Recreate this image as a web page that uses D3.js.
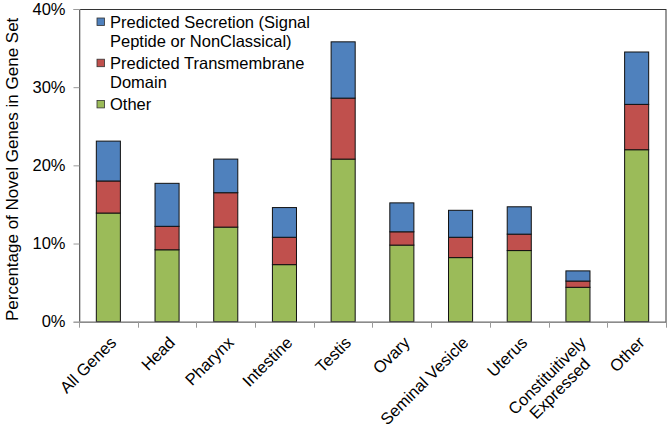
<!DOCTYPE html>
<html><head><meta charset="utf-8">
<script src="https://cdn.jsdelivr.net/npm/d3@7"></script>
<style>
html,body{margin:0;padding:0;background:#fff;}
text{font-family:"Liberation Sans",Arial,sans-serif;fill:#000;}
</style></head>
<body>
<svg id="c" width="670" height="427"></svg>
<script>
const categories = ["All Genes","Head","Pharynx","Intestine","Testis","Ovary","Seminal Vesicle","Uterus","Constituitively|Expressed","Other"];
const otherVals = [13.9, 9.2, 12.1, 7.3, 20.8, 9.8, 8.2, 9.1, 4.4, 22.0];
const transmembraneVals = [4.1, 3.0, 4.4, 3.5, 7.8, 1.7, 2.6, 2.1, 0.8, 5.8];
const secretionVals = [5.1, 5.5, 4.3, 3.8, 7.2, 3.7, 3.45, 3.5, 1.3, 6.7];
const seriesNames = ["Other","Predicted Transmembrane Domain","Predicted Secretion (Signal Peptide or NonClassical)"];
const legendLines = [["Predicted Secretion (Signal","Peptide or NonClassical)"],["Predicted Transmembrane","Domain"],["Other"]];
const yTicks = [0,10,20,30,40];
const colors = {"Other":"#9BBB59","Predicted Transmembrane Domain":"#C0504D","Predicted Secretion (Signal Peptide or NonClassical)":"#4F81BD"};

const svg = d3.select("#c");
const L=79, R=666, T=9, B=321.7;
const x = d3.scaleBand().domain(categories).range([L,R]).paddingInner(0.59).paddingOuter(0.295);
const y = d3.scaleLinear().domain([0,40]).range([B,T]);

const rows = categories.map((c,i)=>({cat:c, "Other":otherVals[i], "Predicted Transmembrane Domain":transmembraneVals[i], "Predicted Secretion (Signal Peptide or NonClassical)":secretionVals[i]}));
const stack = d3.stack().keys(seriesNames)(rows);

// plot border
svg.append("rect").attr("x",L+0.5).attr("y",T+0.5).attr("width",R-L-0.5).attr("height",B-T).attr("fill","none").attr("stroke","#333").attr("stroke-width",1);

// bars
svg.append("g").selectAll("g").data(stack).join("g").attr("fill",d=>colors[d.key])
 .selectAll("rect").data(d=>d).join("rect")
 .attr("x",d=>x(d.data.cat)).attr("width",x.bandwidth())
 .attr("y",d=>y(d[1])).attr("height",d=>y(d[0])-y(d[1]))
 .attr("stroke","#111").attr("stroke-width",1);

// y axis
const yAxis = d3.axisLeft(y).tickValues(yTicks).tickFormat(d=>d+"%").tickSize(6).tickPadding(8);
const gy = svg.append("g").attr("transform",`translate(${L+0.5},0)`).call(yAxis);
gy.select(".domain").attr("stroke","#999");
gy.selectAll(".tick line").attr("stroke","#999");
gy.selectAll(".tick text").style("font-size","16.5px").style("font-family","'Liberation Sans',Arial,sans-serif").attr("fill","#000");

// x axis with ticks at band boundaries
const gx = svg.append("g").attr("transform",`translate(0,${B})`);
gx.append("line").attr("x1",L).attr("x2",R).attr("y1",0.5).attr("y2",0.5).attr("stroke","#999");
const bounds = categories.map(c=>x(c)-x.step()*x.paddingInner()/2).concat([R]);
gx.selectAll("line.t").data(bounds).join("line").attr("class","t")
 .attr("x1",d=>Math.round(d)+0.5).attr("x2",d=>Math.round(d)+0.5).attr("y1",0).attr("y2",6).attr("stroke","#999");
gx.selectAll("text").data(categories).join("text")
 .attr("transform",d=>`translate(${x(d)+x.bandwidth()/2+9},${22}) rotate(-45)`)
 .attr("text-anchor","middle").style("font-size","16.5px")
 .each(function(d){
   const parts=d.split("|");
   const sel=d3.select(this);
   const ts=sel.selectAll("tspan").data(parts).join("tspan").attr("dy",(p,i)=>i===0?0:"1.1em").text(p=>p);
   let maxW=0; ts.each(function(){maxW=Math.max(maxW,this.getComputedTextLength());});
   ts.attr("x",-maxW/2);
 });

// y title
svg.append("text").attr("transform",`translate(17.5,${(T+B)/2+4}) rotate(-90)`).attr("text-anchor","middle").style("font-size","17px").text("Percentage of Novel Genes in Gene Set");

// legend
const lg = svg.append("g");
let ly = 28;
legendLines.forEach((lines,i)=>{
  const key = seriesNames[2-i];
  lg.append("rect").attr("x",97).attr("y",ly-10).attr("width",7.5).attr("height",7.5).attr("fill",colors[key]).attr("stroke","#333").attr("stroke-width",0.8);
  lines.forEach((t,j)=>{
    lg.append("text").attr("x",110).attr("y",ly+j*18.7).style("font-size","16.5px").text(t);
  });
  ly += (lines.length-1)*18.7 + 22.5;
});
</script>
</body></html>
